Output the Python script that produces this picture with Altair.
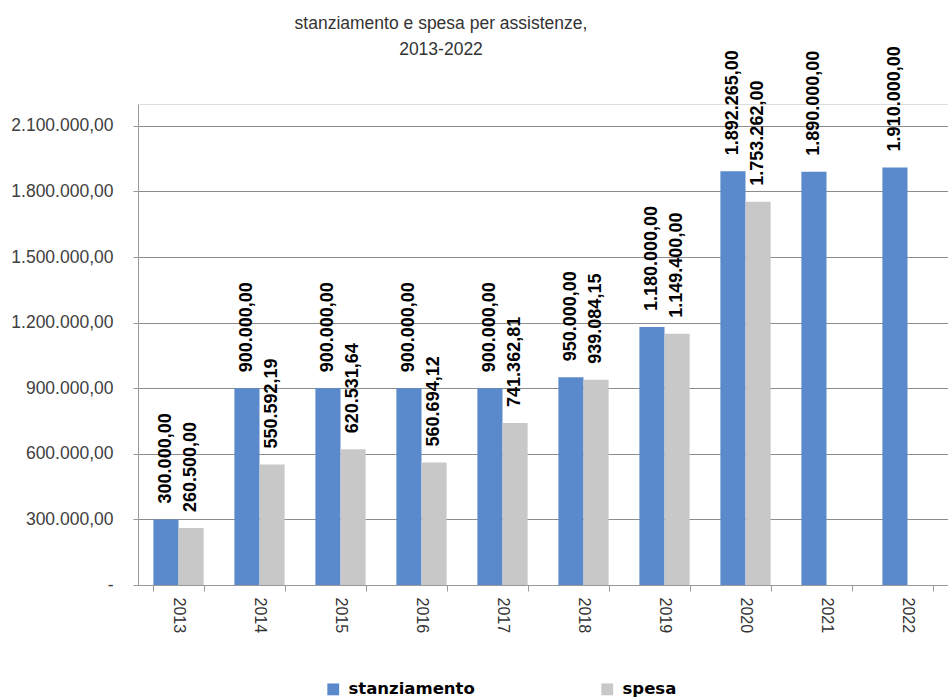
import altair as alt
import pandas as pd

years = ["2013", "2014", "2015", "2016", "2017", "2018", "2019", "2020", "2021", "2022"]
stanziamento = [300000.00, 900000.00, 900000.00, 900000.00, 900000.00, 950000.00,
                1180000.00, 1892265.00, 1890000.00, 1910000.00]
spesa = [260500.00, 550592.19, 620531.64, 560694.12, 741362.81, 939084.15,
         1149400.00, 1753262.00, None, None]
series_names = ["stanziamento", "spesa"]
series_colors = ["#5A8ACB", "#C8C8C8"]
y_ticks = [0, 300000, 600000, 900000, 1200000, 1500000, 1800000, 2100000]


def it_fmt(v):
    s = f"{v:,.2f}"
    return s.replace(",", "#").replace(".", ",").replace("#", ".")


rows = []
for i, y in enumerate(years):
    for name, vals in zip(series_names, [stanziamento, spesa]):
        v = vals[i]
        if v is None:
            continue
        rows.append({"anno": y, "serie": name, "valore": v, "etichetta": it_fmt(v)})
df = pd.DataFrame(rows)

x_enc = alt.X("anno:N", sort=years, title=None,
              scale=alt.Scale(paddingInner=0.38, paddingOuter=0.19),
              axis=alt.Axis(labelAngle=90, tickBand="extent", tickSize=6,
                            labelPadding=6, labelFontSize=16,
                            labelFont="Liberation Sans", labelColor="#333333",
                            domainColor="#999999", tickColor="#999999", grid=False))
y_enc = alt.Y("valore:Q", title=None,
              scale=alt.Scale(domain=[0, 2200000], nice=False),
              axis=alt.Axis(values=y_ticks, tickSize=5, labelPadding=20,
                            labelFontSize=17.5, labelFont="Liberation Sans",
                            labelColor="#404040", domainColor="#999999",
                            tickColor="#999999", gridColor="#8C8C8C",
                            labelExpr="datum.value == 0 ? '-' : replace(replace(replace(format(datum.value, ',.2f'), regexp(',', 'g'), '#'), regexp('\\\\.', 'g'), ','), regexp('#', 'g'), '.')"))
color_enc = alt.Color("serie:N", sort=series_names, title=None,
                      scale=alt.Scale(domain=series_names, range=series_colors),
                      legend=alt.Legend(orient="none", direction="horizontal",
                                        legendX=187, legendY=577, columns=2,
                                        columnPadding=124, symbolType="square",
                                        symbolSize=140, symbolStrokeWidth=0,
                                        labelFont="DejaVu Sans", labelFontSize=16.5,
                                        labelFontWeight="bold", labelColor="#000000",
                                        labelOffset=7))

base = alt.Chart(df).encode(
    x=x_enc,
    xOffset=alt.XOffset("serie:N", sort=series_names),
    y=y_enc,
)

bars = base.mark_bar().encode(color=color_enc)
labels = base.mark_text(angle=270, align="left", baseline="middle", dx=16,
                        font="Liberation Sans", fontSize=18, fontWeight="bold",
                        color="#000000").encode(text="etichetta:N")

chart = (bars + labels).properties(
    width=810, height=481,
    title=alt.TitleParams(text=["stanziamento e spesa per assistenze,", "2013-2022"],
                          font="Liberation Sans", fontSize=17.5, fontWeight="normal",
                          color="#333333", anchor="middle", dx=-102, offset=0, dy=12,
                          lineHeight=26),
    autosize=alt.AutoSizeParams(type="none"),
    padding={"left": 138, "top": 104, "right": 0, "bottom": 114},
).configure_view(stroke=None).configure(background="white")

chart.save("out.html", embed_options={"renderer": "svg", "actions": False})
